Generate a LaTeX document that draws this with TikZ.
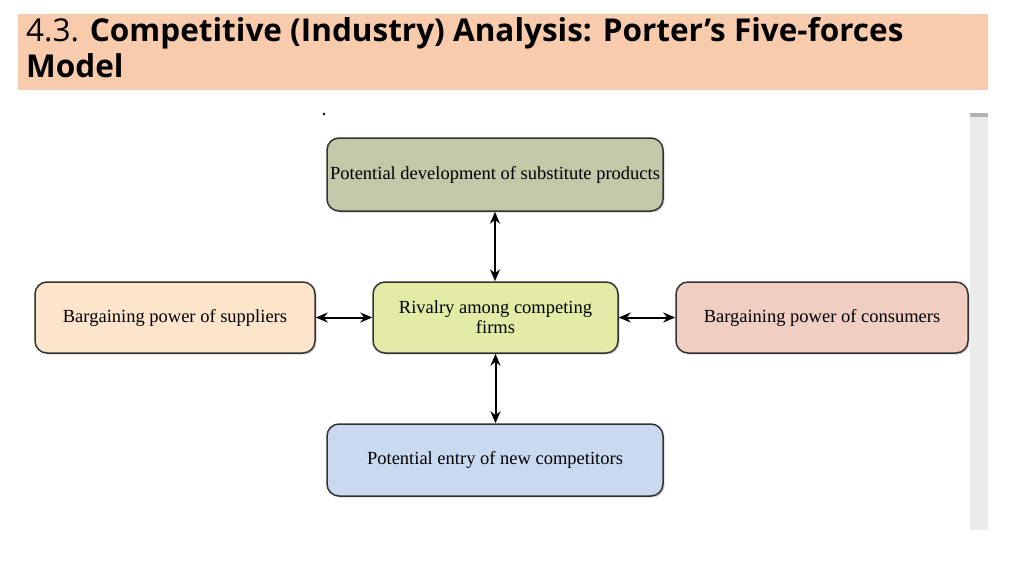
\documentclass[tikz,border=0pt]{standalone}
\usepackage{fontspec}
\setmainfont{Liberation Serif}
\newfontfamily\titlefont{Open Sans}
\usetikzlibrary{arrows.meta,shadows}
\begin{document}
\begin{tikzpicture}[x=1pt,y=-1pt,
  box/.style={draw=black!80,line width=1.5pt,rounded corners=12pt,drop shadow={shadow xshift=1.5pt,shadow yshift=-1.5pt,opacity=0.35},
    align=center,font=\fontsize{18.5}{20}\selectfont,inner sep=0pt},
  arr/.style={line width=2pt,arrows={Stealth[length=12pt,width=10pt]-Stealth[length=12pt,width=10pt]}}]
\useasboundingbox (0,0) rectangle (1024,575);
\fill[white] (0,0) rectangle (1024,575);
\fill[fill={rgb,255:red,248;green,203;blue,173}] (18,14) rectangle (988,90);
\node[anchor=north west,align=left,inner sep=0pt,font=\titlefont\fontsize{31.5}{36}\selectfont] (title) at (26,17)
  {4.3. \textbf{Competitive (Industry) Analysis: Porter’s Five-forces}\\\textbf{Model}};
\fill[black!8] (970,113) rectangle (988,530);
\fill[black!30] (970,113) rectangle (988,117);
\fill (324,114) circle (1.3pt);
\node[box,fill={rgb,255:red,197;green,199;blue,169},minimum width=336pt,minimum height=73pt] (top) at (495,174.5) {Potential development of substitute products};
\node[box,fill={rgb,255:red,253;green,229;blue,204},minimum width=280pt,minimum height=71pt] (left) at (175,317.5) {Bargaining power of suppliers};
\node[box,fill={rgb,255:red,228;green,235;blue,166},minimum width=245pt,minimum height=71pt] (mid) at (495.5,317.5) {Rivalry among competing\\firms};
\node[box,fill={rgb,255:red,240;green,207;blue,194},minimum width=292pt,minimum height=71pt] (right) at (822,317.5) {Bargaining power of consumers};
\node[box,fill={rgb,255:red,201;green,217;blue,239},minimum width=336pt,minimum height=72pt] (bot) at (495,460) {Potential entry of new competitors};
\draw[arr] (top.south) -- (top.south|-mid.north);
\draw[arr] (mid.south) -- (mid.south|-bot.north);
\draw[arr] (left.east) -- (mid.west);
\draw[arr] (mid.east) -- (right.west);
\end{tikzpicture}
\end{document}
